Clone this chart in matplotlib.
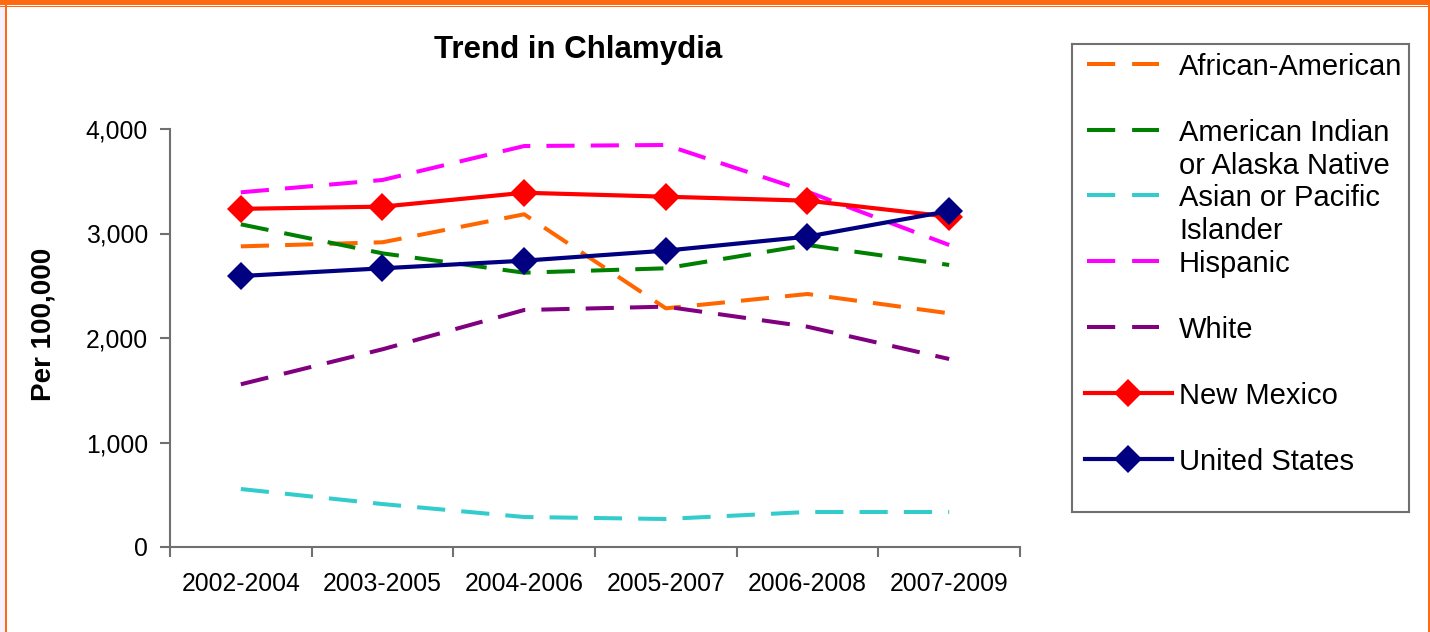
import matplotlib
matplotlib.use("Agg")
import matplotlib.pyplot as plt
from matplotlib.patches import Rectangle
from matplotlib.lines import Line2D

plt.rcParams['font.family'] = ['Liberation Sans', 'DejaVu Sans']

categories = ["2002-2004", "2003-2005", "2004-2006", "2005-2007", "2006-2008", "2007-2009"]
african_american = [2877, 2916, 3184, 2284, 2421, 2236]
american_indian = [3088, 2810, 2625, 2667, 2890, 2699]
asian_pacific = [555, 411, 287, 268, 335, 335]
hispanic = [3394, 3512, 3837, 3847, 3400, 2890]
white = [1557, 1892, 2268, 2300, 2108, 1799]
new_mexico = [3236, 3257, 3390, 3352, 3314, 3161]
united_states = [2593, 2667, 2740, 2836, 2970, 3215]

y_ticks = [0, 1000, 2000, 3000, 4000]
y_tick_labels = ["0", "1,000", "2,000", "3,000", "4,000"]

series = [
    ("African-American", african_american, "#FF6600", True),
    ("American Indian\nor Alaska Native", american_indian, "#008000", True),
    ("Asian or Pacific\nIslander", asian_pacific, "#33CCCC", True),
    ("Hispanic", hispanic, "#FF00FF", True),
    ("White", white, "#800080", True),
    ("New Mexico", new_mexico, "#FF0000", False),
    ("United States", united_states, "#000080", False),
]

W, H = 1430, 632
fig = plt.figure(figsize=(W / 100, H / 100), dpi=100)
fig.patch.set_facecolor("white")

def fx(px):
    return px / W

def fy(py):
    return 1 - py / H

# Border decorations
fig.add_artist(Rectangle((0, fy(632)), fx(5), 1, transform=fig.transFigure,
                         facecolor="#F6F0FF", edgecolor="none"))
fig.add_artist(Rectangle((fx(5), fy(632)), fx(2.2), 1, transform=fig.transFigure,
                         facecolor="#FF6A10", edgecolor="none"))
fig.add_artist(Rectangle((fx(1427.5), fy(632)), fx(2.5), 1, transform=fig.transFigure,
                         facecolor="#FF6A10", edgecolor="none"))
fig.add_artist(Rectangle((0, fy(5)), 1, fy(0) - fy(5), transform=fig.transFigure,
                         facecolor="#FF6A10", edgecolor="none"))
fig.add_artist(Rectangle((0, fy(6.6)), 1, fy(5.8) - fy(6.6), transform=fig.transFigure,
                         facecolor="#FF6A10", edgecolor="none"))

# Main axes
ax = fig.add_axes([fx(170), fy(547), fx(1020 - 170), fy(129) - fy(547)])
x = list(range(len(categories)))
for label, vals, color, dashed in series:
    if dashed:
        ax.plot(x, vals, color=color, lw=2.9, dashes=(7, 4), solid_capstyle="butt",
                dash_capstyle="butt", zorder=2)
    else:
        ax.plot(x, vals, color=color, lw=3.0, marker="D", markersize=14,
                markeredgewidth=0, zorder=3)

ax.set_xlim(-0.5, len(categories) - 0.5)
ax.set_ylim(0, 4000)
ax.set_yticks(y_ticks)
ax.set_yticklabels(y_tick_labels, fontsize=17.8)
ax.set_xticks([i - 0.5 for i in range(len(categories) + 1)])
ax.set_xticklabels([])
ax.set_xticks(x, minor=True)
ax.set_xticklabels(categories, minor=True, fontsize=17.8)
ax.tick_params(axis="x", which="minor", length=0, pad=18)
ax.tick_params(axis="x", which="major", length=7, width=1.5, color="#707070", direction="out")
ax.tick_params(axis="y", length=7, width=1.5, color="#707070", direction="out", pad=9)
for s in ["top", "right"]:
    ax.spines[s].set_visible(False)
for s in ["left", "bottom"]:
    ax.spines[s].set_color("#707070")
    ax.spines[s].set_linewidth(1.5)

fig.text(fx(578), fy(50), "Trend in Chlamydia", fontsize=22.5, fontweight="bold",
         ha="center", va="center")
fig.text(fx(44), fy(324), "Per 100,000", fontsize=20, fontweight="bold",
         rotation=90, ha="center", va="center")

# Legend drawn in its own axes with pixel coordinates
lx0, lx1, ly0, ly1 = 1072, 1409, 44, 512
lax = fig.add_axes([fx(lx0), fy(ly1), fx(lx1 - lx0), fy(ly0) - fy(ly1)])
lax.set_xlim(lx0, lx1)
lax.set_ylim(ly1, ly0)
lax.set_xticks([])
lax.set_yticks([])
for s in lax.spines.values():
    s.set_color("#707070")
    s.set_linewidth(1.5)

row_y = [64, 130, 195, 261, 327, 393, 459]
for (label, vals, color, dashed), yy in zip(series, row_y):
    if dashed:
        lax.add_line(Line2D([1087, 1159], [yy, yy], color=color, lw=2.9, dashes=(7, 4.2),
                            dash_capstyle="butt"))
    else:
        lax.add_line(Line2D([1085, 1172], [yy, yy], color=color, lw=3.0))
        lax.add_line(Line2D([1128], [yy], color=color, marker="D", markersize=14,
                            markeredgewidth=0))
    lines = label.split("\n")
    for k, t in enumerate(lines):
        lax.text(1179, yy + k * 33, t, fontsize=21, ha="left", va="center_baseline")

fig.savefig("out.png", dpi=100, facecolor="white")
